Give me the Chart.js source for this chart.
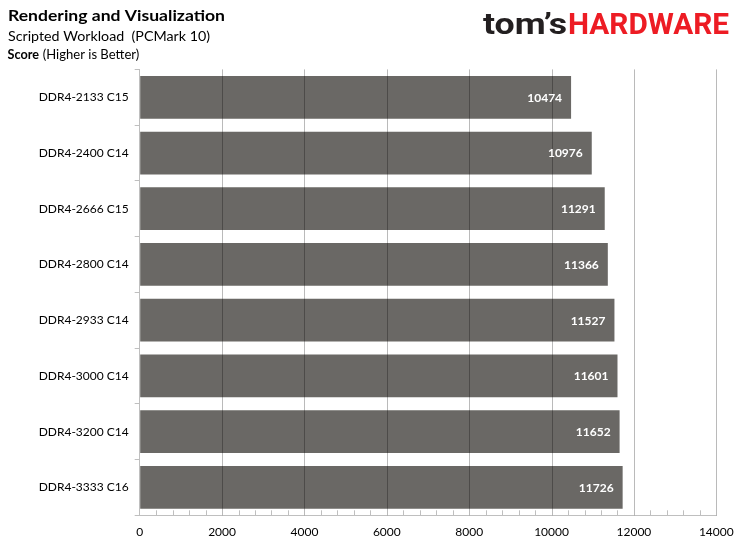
<!DOCTYPE html>
<html>
<head>
<meta charset="utf-8">
<script src="https://cdn.jsdelivr.net/npm/chart.js@4/dist/chart.umd.min.js"></script>
<style>
html,body{margin:0;padding:0;background:#fff;}
#wrap{position:relative;width:744px;height:549px;}
</style>
</head>
<body>
<div id="wrap"><canvas id="c" width="744" height="549"></canvas></div>
<script>
const categories = ['DDR4-2133 C15','DDR4-2400 C14','DDR4-2666 C15','DDR4-2800 C14','DDR4-2933 C14','DDR4-3000 C14','DDR4-3200 C14','DDR4-3333 C16'];
const scores = [10474,10976,11291,11366,11527,11601,11652,11726];
const xTickValues = [0,2000,4000,6000,8000,10000,12000,14000];
const minorStep = 400;

const titleText = 'Rendering and Visualization';
const subtitleText = 'Scripted Workload  (PCMark 10)';
const unitBold = 'Score';
const unitRest = '(Higher is Better)';

const FONT = 'Lato, "Open Sans", sans-serif';

function fitText(ctx, text, x, y, font, width, color) {
  ctx.save();
  ctx.font = font;
  ctx.fillStyle = color;
  ctx.textAlign = 'left';
  ctx.textBaseline = 'alphabetic';
  const w = ctx.measureText(text).width;
  const s = width ? width / w : 1;
  ctx.translate(x, y);
  ctx.scale(s, 1);
  ctx.fillText(text, 0, 0);
  ctx.restore();
  return w * s;
}

const overlay = {
  id: 'overlay',
  afterDatasetsDraw(chart) {
    const ctx = chart.ctx;
    const xs = chart.scales.x;
    const area = chart.chartArea;
    ctx.save();
    ctx.strokeStyle = 'rgba(0,0,0,0.27)';
    ctx.lineWidth = 1;
    xTickValues.forEach(v => {
      if (v === 0) return;
      const px = Math.round(xs.getPixelForValue(v)) + 0.5;
      ctx.beginPath();
      ctx.moveTo(px, area.top);
      ctx.lineTo(px, area.bottom);
      ctx.stroke();
    });
    ctx.strokeStyle = '#bfbfbf';
    for (let v = minorStep; v < xs.max; v += minorStep) {
      if (v % 2000 === 0) continue;
      const px = Math.round(xs.getPixelForValue(v)) + 0.5;
      ctx.beginPath();
      ctx.moveTo(px, area.bottom - 5);
      ctx.lineTo(px, area.bottom);
      ctx.stroke();
    }
    ctx.restore();
    const meta = chart.getDatasetMeta(0);
    ctx.save();
    ctx.font = 'bold 12px ' + FONT;
    ctx.fillStyle = '#ffffff';
    ctx.textAlign = 'right';
    ctx.textBaseline = 'middle';
    meta.data.forEach((bar, i) => {
      ctx.fillText(String(scores[i]), bar.x - 9, bar.y + 0.5);
    });
    ctx.restore();
  },
  afterDraw(chart) {
    const ctx = chart.ctx;
    fitText(ctx, titleText, 8, 21, 'bold 15.5px ' + FONT, 217, '#000');
    fitText(ctx, subtitleText, 8, 40.5, '13.5px ' + FONT, 202, '#000');
    fitText(ctx, unitBold, 7.5, 59, 'bold 13px ' + FONT, 31.5, '#000');
    fitText(ctx, unitRest, 42.7, 59, '13px ' + FONT, 96.6, '#000');
    fitText(ctx, 'tom\u2019s', 483, 34, 'bold 30px Roboto, sans-serif', 84, '#231f20');
    fitText(ctx, 'HARDWARE', 568, 34, 'bold 30px Roboto, sans-serif', 161, '#ed1c24');
  }
};

new Chart(document.getElementById('c'), {
  type: 'bar',
  data: {
    labels: categories,
    datasets: [{
      data: scores,
      backgroundColor: '#6a6865',
      borderWidth: 0,
      barPercentage: 1,
      categoryPercentage: 0.767
    }]
  },
  options: {
    indexAxis: 'y',
    responsive: false,
    animation: false,
    devicePixelRatio: 1,
    layout: { padding: { top: 69.4, right: 27.7, bottom: 0, left: 0 } },
    plugins: { legend: { display: false }, tooltip: { enabled: false }, title: { display: false } },
    scales: {
      x: {
        type: 'linear',
        min: 0,
        max: 14000,
        afterBuildTicks: s => { s.ticks = xTickValues.map(v => ({ value: v })); },
        afterFit: s => { s.height = 33.7; },
        ticks: { font: { family: FONT, size: 12 }, color: '#000', padding: 10, maxRotation: 0, callback: v => String(v) },
        grid: { display: true, drawOnChartArea: false, drawTicks: false, color: 'rgba(0,0,0,0)' },
        border: { display: true, color: '#bfbfbf', width: 1 }
      },
      y: {
        type: 'category',
        afterFit: s => { s.width = 139.7; },
        ticks: { font: { family: FONT, size: 12 }, color: '#000', padding: 6 },
        grid: { display: true, drawOnChartArea: false, drawTicks: true, tickLength: 5, color: '#bfbfbf', offset: true },
        border: { display: true, color: '#bfbfbf', width: 1 }
      }
    }
  },
  plugins: [overlay]
});
</script>
</body>
</html>
